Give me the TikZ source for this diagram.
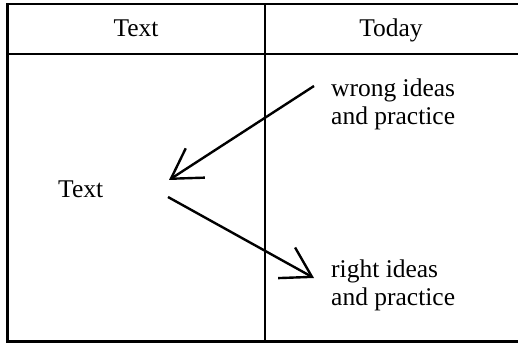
\documentclass[tikz,border=0pt]{standalone}
\usepackage{fontspec}
\setmainfont{Liberation Serif}
\usetikzlibrary{arrows.meta}
\begin{document}
\begin{tikzpicture}[x=1pt,y=-1pt,
  rule/.style={line width=2.4pt},
  label/.style={inner sep=0pt,font=\fontsize{25.5}{28}\selectfont},
  pointer/.style={line width=2.4pt,-{Straight Barb[length=29pt,width=35pt]}}]
  \useasboundingbox (0,0) rectangle (518,344);
  \fill[white] (0,0) rectangle (518,344);
  % table frame, open on the right
  \draw[rule] (530,4) -- (7.5,4) -- (7.5,341.5) -- (530,341.5);
  \draw[rule] (7.5,54) -- (530,54);
  \draw[rule] (265,4) -- (265,341.5);
  % column headers
  \node[label,anchor=base] (h1) at (136,37) {Text};
  \node[label,anchor=base] (h2) at (391,37) {Today};
  % body texts (base anchor sits on the last line)
  \node[label,anchor=base west] (now) at (58,198) {Text};
  \node[label,anchor=base west,align=left] (wrong) at (331,125) {wrong ideas\\and practice};
  \node[label,anchor=base west,align=left] (right) at (331,305) {right ideas\\and practice};
  % arrows
  \coordinate (wstart) at (314,86);
  \coordinate (wend) at (169,180);
  \coordinate (rstart) at (168,197);
  \coordinate (rend) at (314,278);
  \draw[pointer] (wstart) -- (wend);
  \draw[pointer] (rstart) -- (rend);
\end{tikzpicture}
\end{document}
